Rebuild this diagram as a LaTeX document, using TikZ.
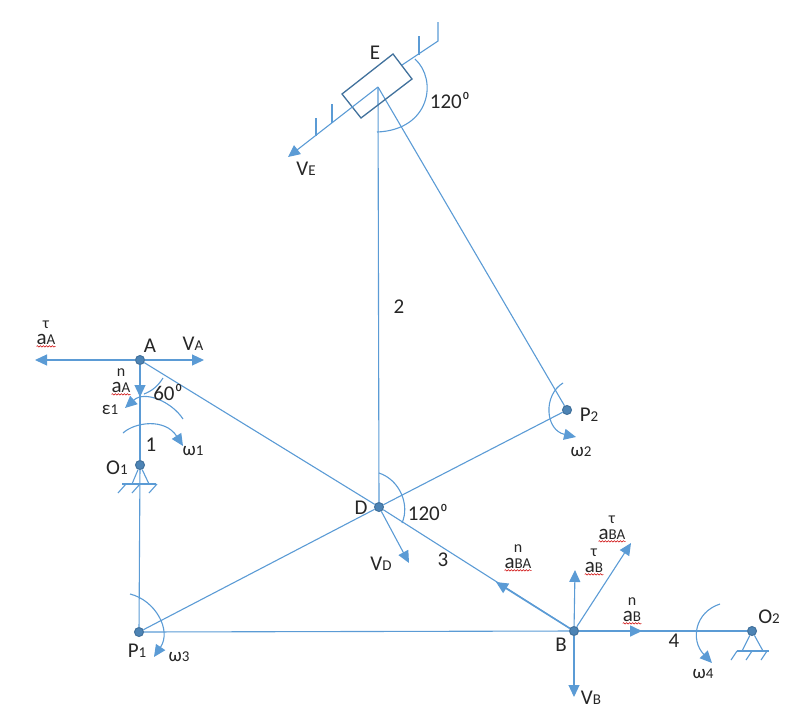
\documentclass[tikz,border=0pt]{standalone}
\usepackage{fontspec}
\setmainfont{Carlito}
\usetikzlibrary{calc,arrows.meta,decorations.pathmorphing}
\definecolor{linkblue}{HTML}{5B9BD5}
\definecolor{jointedge}{HTML}{41719C}
\definecolor{txtgray}{HTML}{262626}
\newcommand{\smtxt}[1]{{\fontsize{15}{15}\selectfont #1}}
\tikzset{
	link/.style={linkblue, line width=1.1pt},
	vec/.style={link, -{Triangle[length=12pt,width=11pt]}},
	joint/.style={circle, draw=jointedge, fill=linkblue!85!black, line width=1pt, minimum size=9pt, inner sep=0pt},
	lbl/.style={text=txtgray, font=\fontsize{21}{22}\selectfont, inner sep=0pt},
	toplbl/.style={text=txtgray, font=\fontsize{16}{16}\selectfont, inner sep=0pt},
	spell/.style={red!80!black, line width=0.5pt, decorate, decoration={snake, amplitude=0.7pt, segment length=3pt}}
}
\begin{document}
\begin{tikzpicture}[x=1pt,y=-1pt]
	\useasboundingbox (0,0) rectangle (794,726);
	
	% joints
	\foreach \n/\x/\y in {A/140/360, Oa/140/465, Pa/139/632, D/379/507, B/574/631, Ob/752/631, Pb/567/410}
		\node[joint] (\n) at (\x,\y) {};
	
	% free ends
	\coordinate (top) at (378,87);
	\coordinate (railend) at (438,41);
	\coordinate (railcut) at (402,65);
	\coordinate (VEtip) at (288,157);
	\coordinate (VAtip) at (204,360);
	\coordinate (aAttip) at (35,360);
	\coordinate (aAntip) at (140,397);
	\coordinate (VDtip) at (409,563);
	\coordinate (VBtip) at (574,697);
	\coordinate (aBttip) at (575,570);
	\coordinate (aBntip) at (642,631);
	\coordinate (aBAttip) at (631,543);
	\coordinate (aBAntip) at (496,582);
	
	% links
	\draw[link] (A) -- (Oa);
	\draw[link] (Oa) -- (Pa);
	\draw[link] (A) -- (D);
	\draw[link] (D) -- (B);
	\draw[link] (Pa) -- (D);
	\draw[link] (D) -- (Pb);
	\draw[link] (Pa) -- (B);
	\draw[link] (B) -- (Ob);
	\draw[link] (D) -- (top);
	\draw[link] (top) -- (Pb);
	
	% slider and rail
	\draw[jointedge, line width=1.3pt] (393,54) -- (412,79) -- (361,118) -- (342,94) -- cycle;
	\draw[link] (railcut) -- (railend) -- (438,22);
	\draw[link] (419,36) -- (419,55);
	\draw[link] (332,104) -- (332,123);
	\draw[link] (316,118) -- (316,136);
	\draw[vec] (top) -- (VEtip);
	
	% velocities and accelerations
	\draw[vec] (A) -- (VAtip);
	\draw[vec] (A) -- (aAttip);
	\draw[vec, line width=1.3pt] (A) -- (aAntip);
	\draw[vec] (D) -- (VDtip);
	\draw[vec] (B) -- (VBtip);
	\draw[vec] (B) -- (aBttip);
	\draw[vec, line width=1.6pt] (B) -- (aBntip);
	\draw[vec] (B) -- (aBAttip);
	\draw[vec, line width=1.6pt] (B) -- (aBAntip);
	
	% supports
	\draw[link] (132,484) -- (Oa) -- (149,484);
	\draw[link] (122,484) -- (156,484);
	\foreach \x in {126,140,157} \draw[link] (\x,484) -- (\x-8,493);
	\draw[link] (742,651) -- (Ob) -- (763,651);
	\draw[link] (737,651) -- (769,651);
	\foreach \x in {737,752,767} \draw[link] (\x,651) -- (\x-6,660);
	
	% angles
	\draw[link] (415,59) .. controls (438,80) and (430,130) .. (377,132);
	\draw[link] (163,378) .. controls (158,386) and (152,391) .. (144,394);
	\draw[link] (379,473) .. controls (400,480) and (410,505) .. (402,523);
	
	% angular speeds
	\draw[vec] (183,419) .. controls (172,402) and (145,390) .. (125,408);
	\draw[vec] (123,433) .. controls (135,422) and (165,418) .. (183,446);
	\draw[vec] (130,594) .. controls (155,600) and (172,630) .. (154,657);
	\draw[vec] (563,383) .. controls (543,395) and (545,430) .. (576,437);
	\draw[vec] (720,604) .. controls (695,612) and (690,640) .. (712,663);
	
	% labels
	\foreach \n/\x/\y/\t in {lE/375/53/E, lA/150/346/A, lD/361/508/D, lB/561/645/B, ltwo/399/307/2, lthree/443/560/3, lone/151/445/1, lfour/674/641/4}
		\node[lbl] (\n) at (\x,\y) {\t};
	\foreach \n/\x/\y/\t/\s in {lVE/306/169/V/E, lVA/193/344/V/A, lVD/381/564/V/D, lVB/591/698/V/B, lOa/117/468/O/1, lOb/769/617/O/2, lPa/137/651/P/1, lPb/589/415/P/2}
		\node[lbl] (\n) at (\x,\y) {\t\smtxt{\s}};
	\foreach \n/\x/\y/\t/\s in {leps/110/410/ε/1, lwa/193/451/ω/1, lwb/581/452/ω/2, lwc/179/657/ω/3, lwd/703/674/ω/4}
		\node[lbl, font=\fontsize{19}{19}\selectfont] (\n) at (\x,\y) {\t\smtxt{\s}};
	\node[lbl] (sixty) at (168,392) {60⁰};
	\node[lbl] (angE) at (450,100) {120⁰};
	\node[lbl] (angD) at (428,512) {120⁰};
	
	% acceleration labels
	\foreach \n/\x/\y/\t/\s in {aAt/46/339/τ/A, aAn/121/387/n/A, aBAn/518/563/n/BA, aBt/594/567/τ/B, aBAt/612/534/τ/BA, aBn/632/616/n/B}{
		\node[lbl] (\n) at (\x,\y) {a\smtxt{\s}};
		\node[toplbl] (\n top) at (\x,\y-14) {\t};
		\draw[spell] ($(\n.south west)+(0,2)$) -- ($(\n.south east)+(0,2)$);
	}
\end{tikzpicture}
\end{document}
